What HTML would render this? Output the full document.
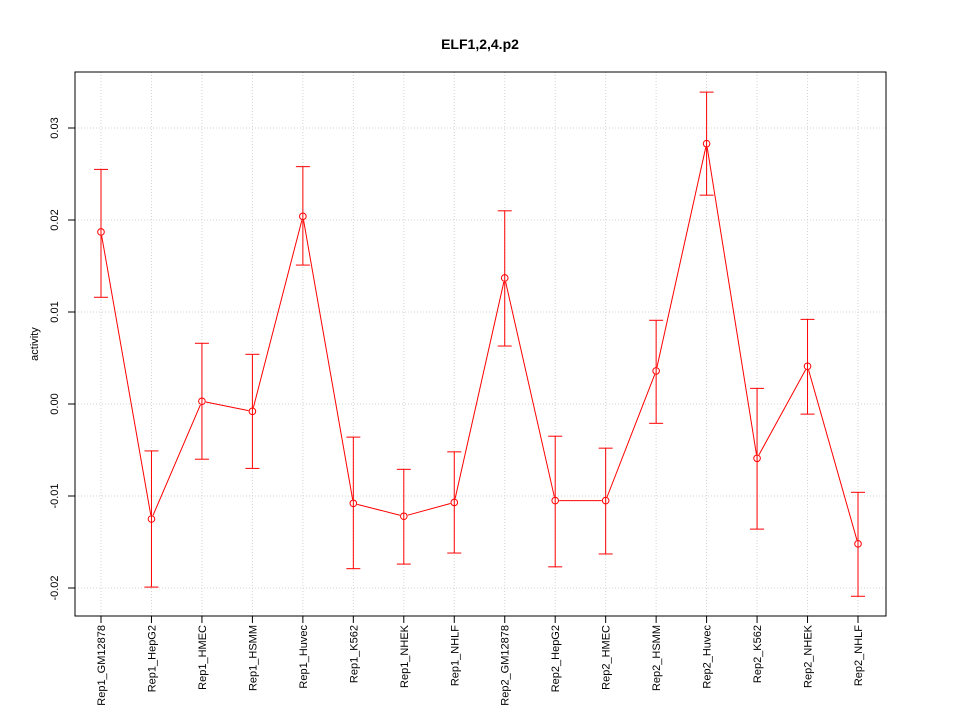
<!DOCTYPE html>
<html><head><meta charset="utf-8"><style>
html,body{margin:0;padding:0;background:#fff;}
svg{display:block;font-family:"Liberation Sans",sans-serif;}
</style></head><body>
<svg id="chart" width="960" height="720"></svg>
<script>
const categories=["Rep1_GM12878","Rep1_HepG2","Rep1_HMEC","Rep1_HSMM","Rep1_Huvec","Rep1_K562","Rep1_NHEK","Rep1_NHLF","Rep2_GM12878","Rep2_HepG2","Rep2_HMEC","Rep2_HSMM","Rep2_Huvec","Rep2_K562","Rep2_NHEK","Rep2_NHLF"];
const values=[0.0187,-0.0125,0.0003,-0.0008,0.0204,-0.0108,-0.0122,-0.0107,0.0137,-0.0105,-0.0105,0.0036,0.0283,-0.0059,0.0041,-0.0152];
const upper=[0.0255,-0.0051,0.0066,0.0054,0.0258,-0.0036,-0.0071,-0.0052,0.0210,-0.0035,-0.0048,0.0091,0.0339,0.0017,0.0092,-0.0096];
const lower=[0.0116,-0.0199,-0.0060,-0.0070,0.0151,-0.0179,-0.0174,-0.0162,0.0063,-0.0177,-0.0163,-0.0021,0.0227,-0.0136,-0.0011,-0.0209];
const yTicks=[-0.02,-0.01,0.00,0.01,0.02,0.03];
const yTickLabels=["-0.02","-0.01","0.00","0.01","0.02","0.03"];

const NS="http://www.w3.org/2000/svg";
const svg=document.getElementById('chart');
const L=75,R=886,T=72,B=616;
function xs(i){return 101+i*(858-101)/(categories.length-1);}
function ys(v){return 404-v*9200;}
function mk(tag,attrs,parent){const e=document.createElementNS(NS,tag);for(const k in attrs)e.setAttribute(k,attrs[k]);(parent||svg).appendChild(e);return e;}

let t=mk('text',{x:480,y:49,'text-anchor':'middle','font-size':14,'font-weight':'bold'});


t.textContent='ELF1,2,4.p2';

categories.forEach((c,i)=>{
  const g=mk('line',{x1:xs(i),x2:xs(i),y1:T,y2:B,stroke:'#d3d3d3','stroke-dasharray':'1,2'});
  
  
});
yTicks.forEach((v,i)=>{
  const g=mk('line',{x1:L,x2:R,y1:ys(v),y2:ys(v),stroke:'#d3d3d3','stroke-dasharray':'1,2'});
  
  
});

const fr=mk('rect',{x:L,y:T,width:R-L,height:B-T,fill:'none',stroke:'#000'});



yTicks.forEach((v,i)=>{
  const y=ys(v);
  const tk=mk('line',{x1:L-7,x2:L,y1:y,y2:y,stroke:'#000'});
  
  
  const lb=mk('text',{x:0,y:0,'text-anchor':'middle','font-size':11,transform:`translate(${L-17},${y}) rotate(-90)`});
  
  
  lb.textContent=yTickLabels[i];
});
const yt=mk('text',{x:0,y:0,'text-anchor':'middle','font-size':11,transform:`translate(38,${(T+B)/2}) rotate(-90)`});


yt.textContent='activity';

categories.forEach((c,i)=>{
  const x=xs(i);
  const tk=mk('line',{x1:x,x2:x,y1:B,y2:B+7,stroke:'#000'});
  
  
  const lb=mk('text',{x:0,y:0,'text-anchor':'end','font-size':11,transform:`translate(${x+4},${B+9}) rotate(-90)`});
  
  
  lb.textContent=c;
});

for(let i=0;i<values.length-1;i++){
  const x1=xs(i),y1=ys(values[i]),x2=xs(i+1),y2=ys(values[i+1]);
  const dx=x2-x1,dy=y2-y1,d=Math.hypot(dx,dy),g=4;
  if(d<=2*g)continue;
  const s=mk('line',{x1:x1+dx*g/d,y1:y1+dy*g/d,x2:x2-dx*g/d,y2:y2-dy*g/d,stroke:'#ff0000'});
  
  
}
values.forEach((v,i)=>{
  const x=xs(i);
  const e=mk('line',{x1:x,x2:x,y1:ys(upper[i]),y2:ys(lower[i]),stroke:'#ff0000'});
  
  
  [upper[i],lower[i]].forEach(w=>{
    const c=mk('line',{x1:x-7,x2:x+7,y1:ys(w),y2:ys(w),stroke:'#ff0000'});
    
    
  });
  const p=mk('circle',{cx:x,cy:ys(v),r:3.3,fill:'none',stroke:'#ff0000'});
  
  
});
</script>
</body></html>
